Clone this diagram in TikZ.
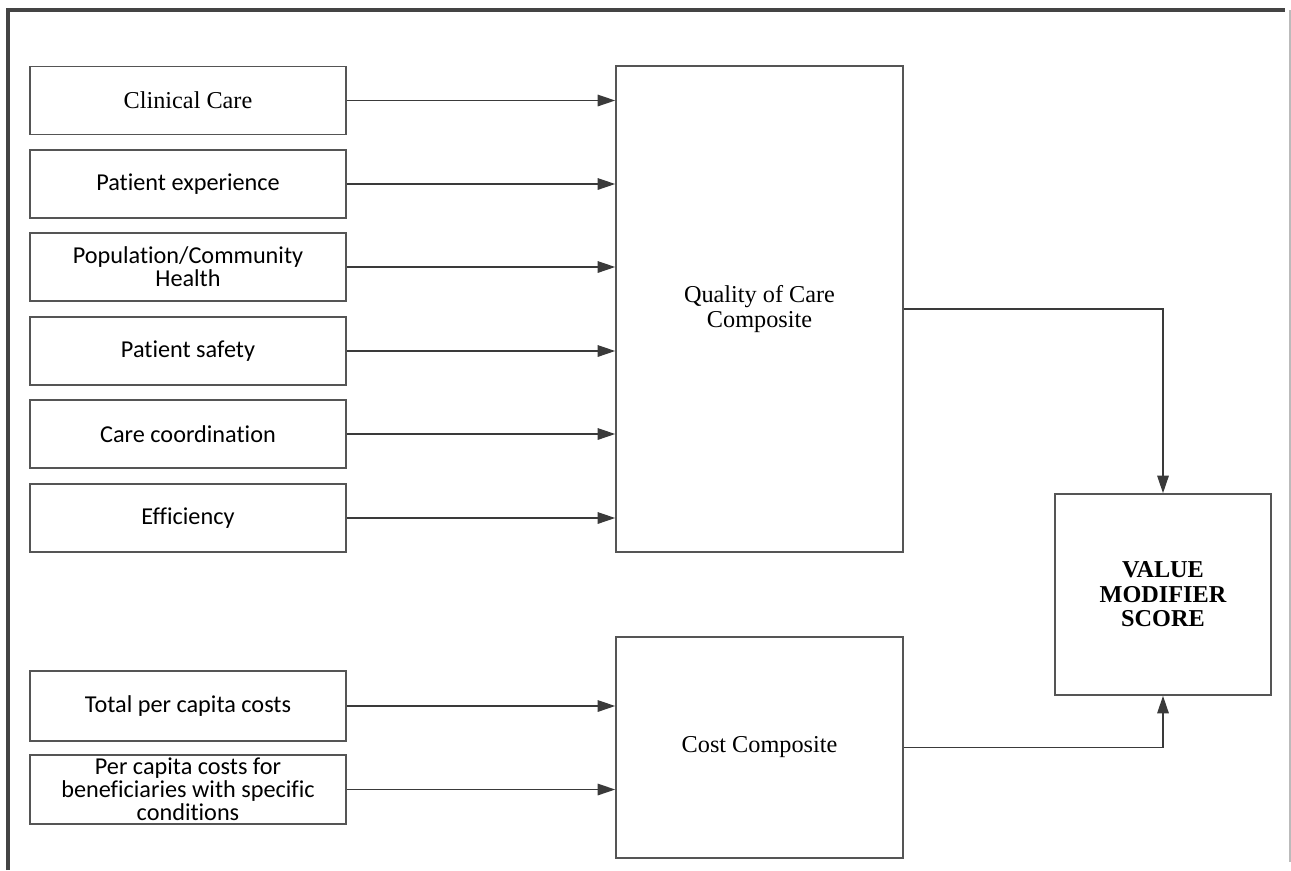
\documentclass[tikz,border=0pt]{standalone}
\usepackage{fontspec}
\setmainfont{Liberation Serif}
\newfontfamily\carlito[Ligatures=CommonOff]{Carlito}
\usetikzlibrary{arrows.meta,positioning}
\definecolor{boxline}{HTML}{555555}
\definecolor{arrowline}{HTML}{3A3A3A}
\definecolor{frameline}{HTML}{444444}
\definecolor{frameright}{HTML}{BBBBBB}

\begin{document}
\begin{tikzpicture}[x=0.02cm,y=-0.02cm,>={Triangle[length=10pt,width=6.5pt]},
 font=\fontsize{13.8}{14}\selectfont,
 item/.style={draw=boxline,line width=0.9pt,align=center,minimum width=6.32cm,minimum height=1.36cm,inner sep=0pt},
 sans/.style={font=\carlito\fontsize{13.8}{13}\selectfont},
 comp/.style={draw=boxline,line width=0.9pt,align=center,inner sep=0pt},
 link/.style={->,arrowline,line width=1pt}]
\useasboundingbox (0,0) rectangle (1291,870);
% outer frame
\draw[frameline,line width=1.8pt] (8,870) -- (8,10) -- (1285,10);
\draw[frameright,line width=0.6pt] (1290,10) -- (1290,862);
% quality measures
\node[item] (clin) at (188,100.5) {Clinical Care};
\node[item,sans] (pexp) at (188,184) {Patient experience};
\node[item,sans] (pop) at (188,267) {Population/Community\\Health};
\node[item,sans] (psafe) at (188,351) {Patient safety};
\node[item,sans] (coord) at (188,434) {Care coordination};
\node[item,sans] (effic) at (188,518) {Efficiency};
% cost measures
\node[item,sans,minimum height=1.4cm] (total) at (188,706) {Total per capita costs};
\node[item,sans,minimum height=1.38cm] (spec) at (188,789.5) {Per capita costs for\\beneficiaries with specific\\conditions};
% composites
\node[comp,minimum width=5.74cm,minimum height=9.72cm] (qual) at (759.5,309) {Quality of Care\\Composite};
\node[comp,minimum width=5.74cm,minimum height=4.42cm] (cost) at (759.5,747.5) {Cost Composite};
\node[comp,minimum width=4.32cm,minimum height=4.02cm,font=\fontsize{13.8}{14}\selectfont\bfseries] (value) at (1163,594.5) {VALUE\\MODIFIER\\SCORE};
% connectors
\draw[link] (clin) -- (clin -| qual.west);
\draw[link] (pexp) -- (pexp -| qual.west);
\draw[link] (pop) -- (pop -| qual.west);
\draw[link] (psafe) -- (psafe -| qual.west);
\draw[link] (coord) -- (coord -| qual.west);
\draw[link] (effic) -- (effic -| qual.west);
\draw[link] (total) -- (total -| cost.west);
\draw[link] (spec) -- (spec -| cost.west);
\draw[link] (qual.east) -| (value.north);
\draw[link] (cost.east) -| (value.south);
\end{tikzpicture}
\end{document}
